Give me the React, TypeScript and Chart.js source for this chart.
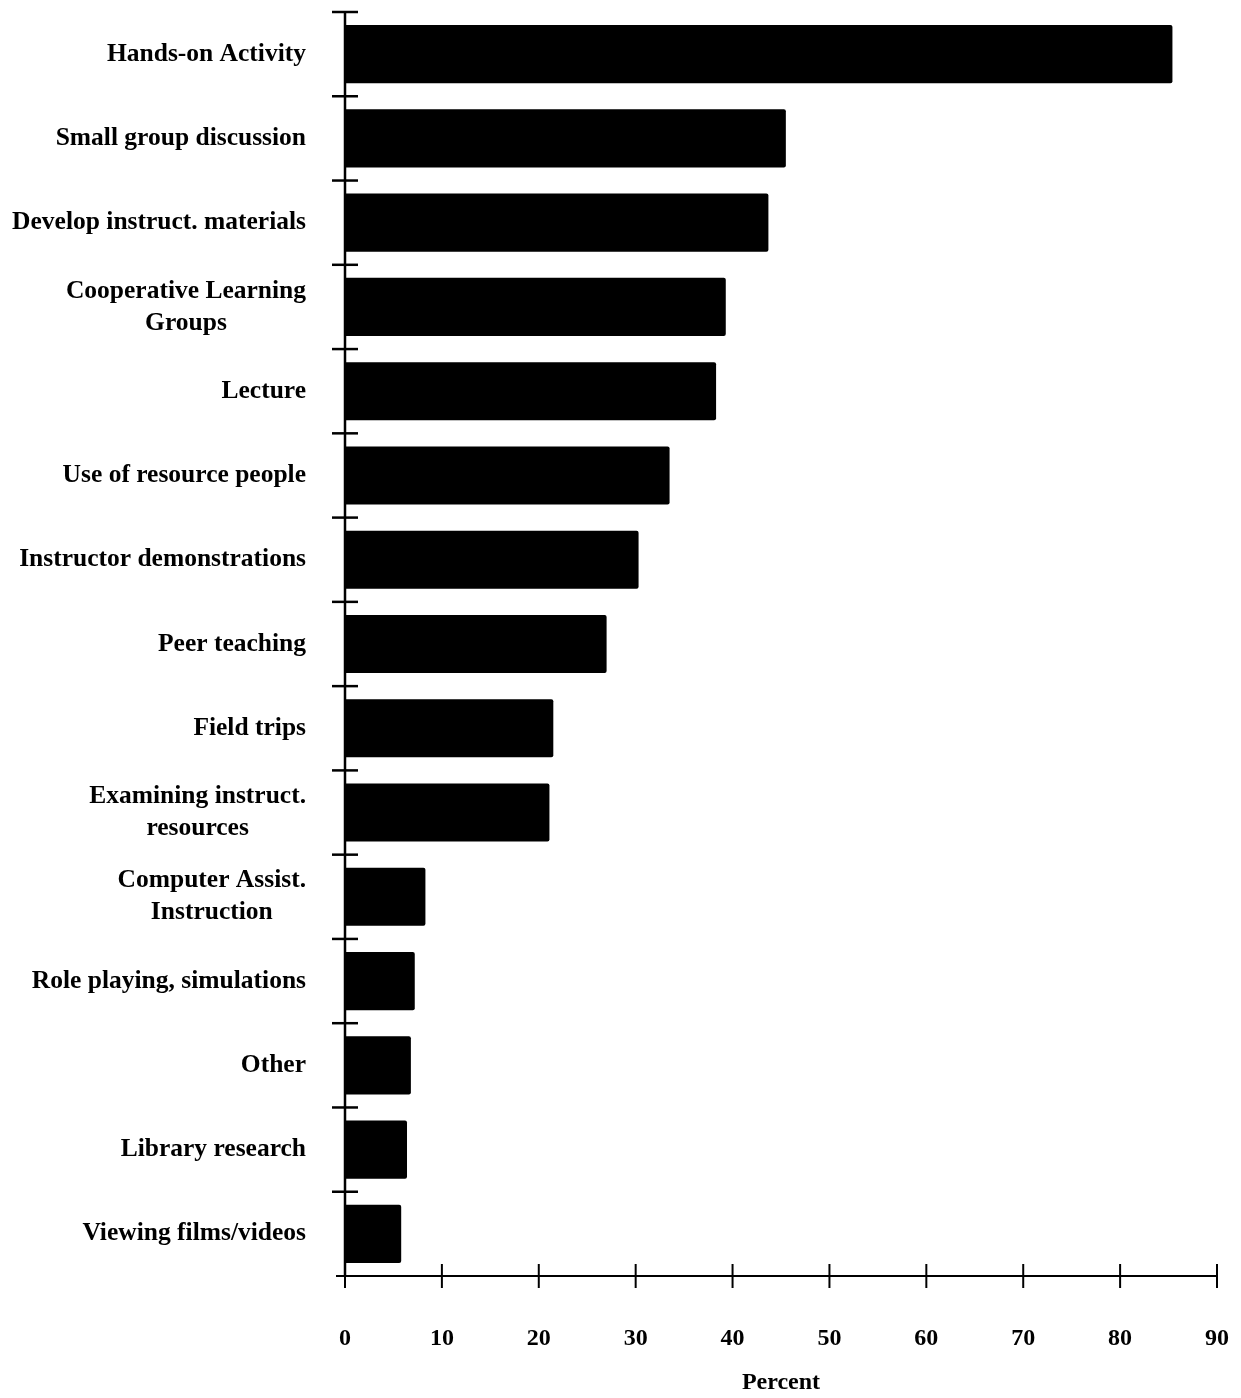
import React, { useEffect, useRef } from "react";
import { Chart, registerables } from "chart.js";

Chart.register(...registerables);

const categories: string[][] = [
  ["Hands-on Activity"],
  ["Small group discussion"],
  ["Develop instruct. materials"],
  ["Cooperative Learning", "Groups"],
  ["Lecture"],
  ["Use of resource people"],
  ["Instructor demonstrations"],
  ["Peer teaching"],
  ["Field trips"],
  ["Examining instruct.", "resources"],
  ["Computer Assist.", "Instruction"],
  ["Role playing, simulations"],
  ["Other"],
  ["Library research"],
  ["Viewing films/videos"],
];

const percentValues: number[] = [
  85.4, 45.5, 43.7, 39.3, 38.3, 33.5, 30.3, 27.0, 21.5, 21.1, 8.3, 7.2, 6.8, 6.4, 5.8,
];

const xTickValues: number[] = [0, 10, 20, 30, 40, 50, 60, 70, 80, 90];
const xAxisTitle = "Percent";

const FONT = "'Liberation Serif', 'Times New Roman', serif";

const axesPlugin = {
  id: "customAxes",
  afterDraw(chart: any) {
    const ctx = chart.ctx;
    const area = chart.chartArea;
    const x = chart.scales.x;
    const y = chart.scales.y;
    ctx.save();
    ctx.strokeStyle = "#000";
    ctx.lineCap = "butt";

    // y axis line
    ctx.lineWidth = 2.5;
    ctx.beginPath();
    ctx.moveTo(area.left, area.top);
    ctx.lineTo(area.left, area.bottom);
    ctx.stroke();

    // x axis line (extends slightly left of the y axis)
    ctx.lineWidth = 2;
    ctx.beginPath();
    ctx.moveTo(area.left - 9, area.bottom);
    ctx.lineTo(x.getPixelForValue(90), area.bottom);
    ctx.stroke();

    // category boundary ticks crossing the y axis
    ctx.lineWidth = 2.5;
    const n = chart.data.labels.length;
    const bounds: number[] = [area.top];
    for (let i = 0; i < n - 1; i++) {
      bounds.push((y.getPixelForValue(i) + y.getPixelForValue(i + 1)) / 2);
    }
    bounds.forEach((by) => {
      ctx.beginPath();
      ctx.moveTo(area.left - 13, by);
      ctx.lineTo(area.left + 13, by);
      ctx.stroke();
    });

    // x ticks crossing the x axis
    ctx.lineWidth = 2;
    xTickValues.forEach((v) => {
      const px = x.getPixelForValue(v);
      ctx.beginPath();
      ctx.moveTo(px, area.bottom - 12);
      ctx.lineTo(px, area.bottom + 12);
      ctx.stroke();
    });

    // category labels: block right-aligned, lines centered within block
    ctx.fillStyle = "#000";
    ctx.font = `bold 25.5px ${FONT}`;
    ctx.textBaseline = "middle";
    ctx.textAlign = "center";
    const rightX = 298;
    const lineGap = 32;
    chart.data.labels.forEach((lab: string[], i: number) => {
      const lines = Array.isArray(lab) ? lab : [lab];
      const w = Math.max(...lines.map((l) => ctx.measureText(l).width));
      const cx = rightX - w / 2;
      const cy = y.getPixelForValue(i);
      lines.forEach((l, j) => {
        ctx.fillText(l, cx, cy + (j - (lines.length - 1) / 2) * lineGap);
      });
    });
    ctx.restore();
  },
};

export default function App() {
  const ref = useRef<HTMLCanvasElement>(null);
  useEffect(() => {
    if (!ref.current) return;
    const chart = new Chart(ref.current, {
      type: "bar",
      data: {
        labels: categories as any,
        datasets: [
          {
            data: percentValues,
            backgroundColor: "#000",
            borderWidth: 0,
            borderRadius: 2,
            barPercentage: 1,
            categoryPercentage: 0.69,
          },
        ],
      },
      options: {
        indexAxis: "y",
        responsive: false,
        animation: false,
        devicePixelRatio: 1,
        layout: { padding: { top: 4, right: 16, bottom: 0, left: 0 } },
        plugins: {
          legend: { display: false },
          tooltip: { enabled: false },
        },
        scales: {
          x: {
            type: "linear",
            min: 0,
            max: 90,
            grid: { display: false, drawTicks: false },
            border: { display: false },
            ticks: {
              stepSize: 10,
              padding: 48,
              color: "#000",
              font: { family: FONT, weight: "bold", size: 24 },
            },
            title: {
              display: true,
              text: xAxisTitle,
              color: "#000",
              padding: { top: 0, bottom: 1 },
              font: { family: FONT, weight: "bold", size: 24 },
            },
            afterFit(scale: any) {
              scale.height = 122;
              scale.paddingLeft = 0;
              scale.paddingRight = 0;
            },
          },
          y: {
            type: "category",
            grid: { display: false, drawTicks: false },
            border: { display: false },
            ticks: { display: false },
            afterFit(scale: any) {
              scale.width = 337;
              scale.paddingTop = 0;
              scale.paddingBottom = 0;
            },
          },
        },
      },
      plugins: [axesPlugin],
    });
    return () => chart.destroy();
  }, []);
  return (
    <div style={{ width: 1225, height: 1390 }}>
      <canvas ref={ref} width={1225} height={1390} style={{ display: "block" }} />
    </div>
  );
}
